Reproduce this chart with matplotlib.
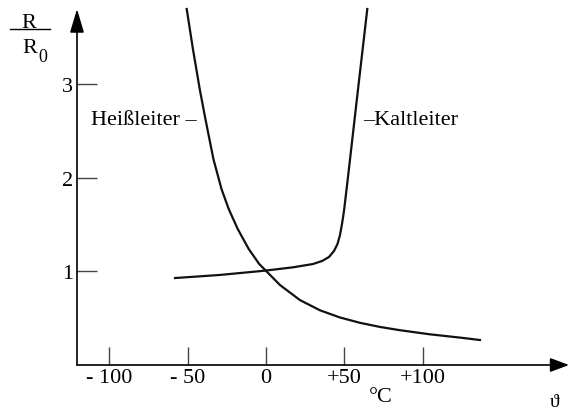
import matplotlib
matplotlib.use("Agg")
import matplotlib.pyplot as plt
from matplotlib.lines import Line2D

# ---- data ----
x_ticks = [-100, -50, 0, 50, 100]
x_tick_labels = ["- 100", "- 50", "0", "+50", "+100"]
y_ticks = [1, 2, 3]
y_tick_labels = ["1", "2", "3"]

# Heißleiter (NTC): temperature (°C) vs R/R0
ntc_T = [-50.64, -46.68, -42.34, -38.70, -33.59, -28.42, -23.82, -18.07, -11.05,
         -4.34, 0.13, 8.94, 21.71, 34.48, 47.25, 60.03, 72.80, 85.57, 104.73,
         123.88, 136.65]
ntc_R = [3.807, 3.380, 2.952, 2.631, 2.203, 1.882, 1.668, 1.455, 1.241,
         1.080, 1.005, 0.855, 0.694, 0.585, 0.508, 0.451, 0.407, 0.372, 0.328,
         0.293, 0.267]

# Kaltleiter (PTC)
ptc_T = [-58.11, -29.37, -0.64, 17.43, 30.01, 35.76, 40.23, 43.42, 45.66,
         47.25, 48.53, 49.81, 51.09, 52.37, 58.49, 64.69]
ptc_R = [0.930, 0.963, 1.009, 1.045, 1.080, 1.112, 1.155, 1.219, 1.294,
         1.390, 1.508, 1.647, 1.829, 2.011, 2.909, 3.807]

SERIF = ["Liberation Serif", "DejaVu Serif"]
plt.rcParams["font.family"] = SERIF

W, H = 569, 414
fig = plt.figure(figsize=(W / 100, H / 100), dpi=100)
ax = fig.add_axes([77 / W, 48 / H, (W - 77) / W, (366 - 10) / H])
ax.set_xlim(-120.7, 193.5)
ax.set_ylim(0, 3.807)
for s in ax.spines.values():
    s.set_visible(False)
ax.patch.set_alpha(0)

# axes with arrowheads
ax.annotate("", xy=(1, 0), xytext=(0, 0), xycoords="axes fraction",
            arrowprops=dict(arrowstyle="-|>,head_length=1.15,head_width=0.43",
                            mutation_scale=10, lw=1.2, color="black",
                            shrinkA=0, shrinkB=0), annotation_clip=False)
ax.annotate("", xy=(0, 1), xytext=(0, 0), xycoords="axes fraction",
            arrowprops=dict(arrowstyle="-|>,head_length=1.44,head_width=0.43",
                            mutation_scale=10, lw=1.2, color="black",
                            shrinkA=0, shrinkB=0), annotation_clip=False)

ax.set_xticks(x_ticks)
ax.set_xticklabels(x_tick_labels)
ax.set_yticks(y_ticks)
ax.set_yticklabels(y_tick_labels)
ax.tick_params(axis="x", direction="in", length=13, width=1.0, color="#444",
               pad=2, labelsize=16)
ax.tick_params(axis="y", direction="in", length=14.4, width=1.0, color="#444",
               pad=3, labelsize=16)

ax.plot(ntc_T, ntc_R, color="#111111", lw=1.6, clip_on=False,
        solid_joinstyle="round")
ax.plot(ptc_T, ptc_R, color="#111111", lw=1.6, clip_on=False,
        solid_joinstyle="round")

ax.text(-44.1, 2.63, "Heißleiter –", ha="right", va="center", fontsize=16)
ax.text(61.9, 2.63, "–Kaltleiter", ha="left", va="center", fontsize=16)
ax.text(73.4, -0.385, "°C", ha="center", va="baseline", fontsize=16)
ax.text(184.5, -0.44, "ϑ", ha="center", va="baseline", fontsize=14)

# R / R0 label
fig.text(29 / W, 1 - 28 / H, "R", ha="center", va="baseline", fontsize=16)
fig.add_artist(Line2D([10 / W, 50 / W], [1 - 30 / H, 1 - 30 / H],
                      transform=fig.transFigure, color="black", lw=1.0))
fig.text(30 / W, 1 - 53 / H, "R", ha="center", va="baseline", fontsize=16)
fig.text(43 / W, 1 - 62 / H, "0", ha="center", va="baseline", fontsize=13)

fig.savefig("out.png", dpi=100)
